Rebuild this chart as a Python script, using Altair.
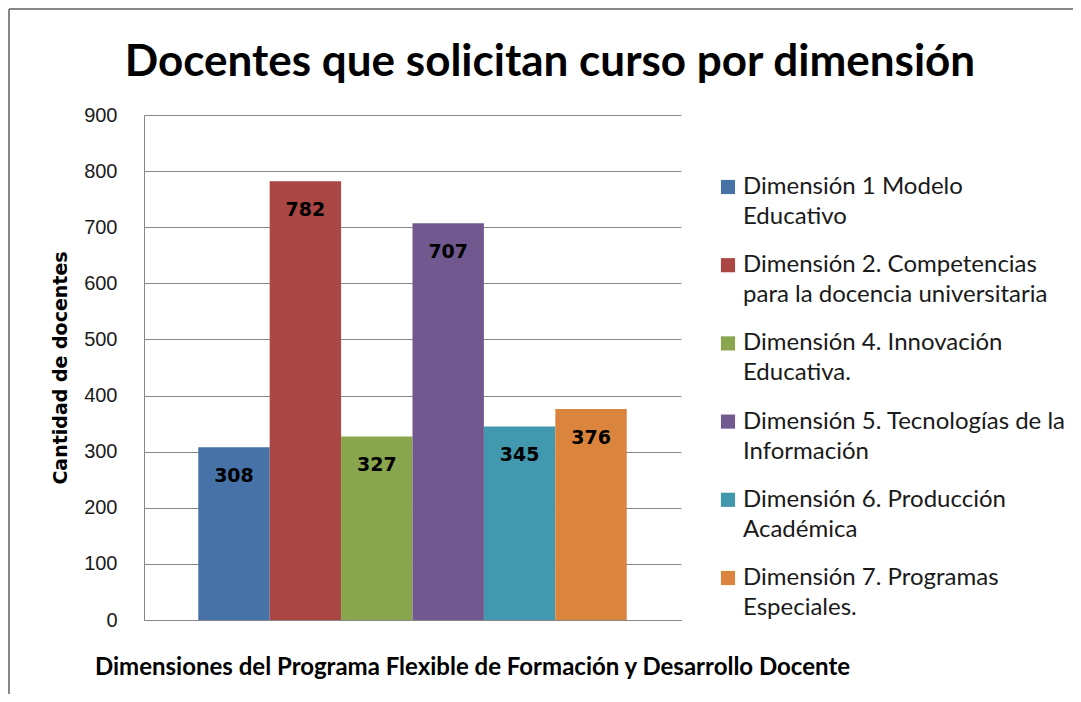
import altair as alt
import pandas as pd

# ---- data ----
title_text = ["Docentes que solicitan curso por dimensión"]
line1 = [
    "Dimensión 1 Modelo",
    "Dimensión 2. Competencias",
    "Dimensión 4. Innovación",
    "Dimensión 5. Tecnologías de la",
    "Dimensión 6. Producción",
    "Dimensión 7. Programas",
]
line2 = [
    "Educativo",
    "para la docencia universitaria",
    "Educativa.",
    "Información",
    "Académica",
    "Especiales.",
]
values = [308, 782, 327, 707, 345, 376]
colors = ["#4672A8", "#AA4643", "#89A54E", "#71588F", "#4198AF", "#DB843D"]
y_ticks = [0, 100, 200, 300, 400, 500, 600, 700, 800, 900]

dims = [a + " " + b for a, b in zip(line1, line2)]
df = pd.DataFrame({
    "dim": dims,
    "label": [a + "\n" + b for a, b in zip(line1, line2)],
    "value": values,
})

GRAY = "#868686"
W, H = 537, 505
PAD_L, PAD_T = 136, 107

color = alt.Color("dim:N", scale=alt.Scale(domain=dims, range=colors), legend=None)

x_enc = alt.X(
    "dim:N", sort=dims,
    scale=alt.Scale(paddingInner=0, paddingOuter=0.76),
    axis=alt.Axis(
        labels=False, ticks=False, domain=True, domainColor=GRAY, domainWidth=1,
        grid=False,
        title="Dimensiones del Programa Flexible de Formación y Desarrollo Docente",
        titleFont="Lato", titleFontSize=24, titleFontWeight="bold", titleColor="#000000",
        titleX=472 - 144, titleY=47, titleAlign="center", titleBaseline="middle",
    ),
)
y_enc = alt.Y(
    "value:Q",
    scale=alt.Scale(domain=[0, 900], nice=False),
    axis=alt.Axis(
        orient="left",
        values=y_ticks, ticks=False, labelPadding=27,
        labelFont="Liberation Sans", labelFontSize=20, labelColor="#1a1a1a",
        grid=True, gridColor=GRAY, gridWidth=1, domain=True, domainColor=GRAY, domainWidth=1,
        title="Cantidad de docentes",
        titleFont="DejaVu Sans", titleFontSize=19, titleFontWeight="bold", titleColor="#000000",
        titleAngle=270, titleX=60 - 144, titleY=H / 2, titleAlign="center", titleBaseline="middle",
    ),
)

bars = alt.Chart(df).mark_bar().encode(x=x_enc, y=y_enc, color=color)

labels = alt.Chart(df).mark_text(
    font="DejaVu Sans", fontSize=19, fontWeight="bold", color="#000000",
    baseline="middle", dy=28.5,
).encode(
    x=alt.X("dim:N", sort=dims),
    y=alt.Y("value:Q"),
    text=alt.Text("value:Q"),
)

main = alt.layer(bars, labels)

leg_y = alt.Y("dim:N", sort=dims, scale=alt.Scale(type="point", range=[72, 463], padding=0), axis=None)

leg_sq = alt.Chart(df).mark_square(size=200, opacity=1).encode(
    x=alt.value(728 - 144), y=leg_y, color=color
)
leg_txt = alt.Chart(df).mark_text(
    font="Lato", fontSize=24, color="#1a1a1a", align="left", baseline="middle",
    lineBreak="\n", lineHeight=30,
).encode(x=alt.value(743 - 144), y=leg_y, text="label:N")

legend = alt.layer(leg_sq, leg_txt)

one = pd.DataFrame({"t": title_text})
title = alt.Chart(one).mark_text(
    font="Lato", fontSize=44, fontWeight="bold", color="#000000",
    align="center", baseline="alphabetic",
).encode(x=alt.value(550 - 144), y=alt.value(76 - 115), text="t:N")

top_line = alt.Chart(one).mark_rule(color=GRAY, strokeWidth=2).encode(
    x=alt.value(-135), x2=alt.value(1081), y=alt.value(-106)
)
left_line = alt.Chart(one).mark_rule(color=GRAY, strokeWidth=2).encode(
    x=alt.value(-135), y=alt.value(-106), y2=alt.value(700)
)

chart = (
    alt.layer(main, legend, title, top_line, left_line)
    .resolve_scale(y="independent")
    .properties(
        width=W, height=H,
        background="#ffffff",
        autosize=alt.AutoSizeParams(type="none"),
        padding={"left": PAD_L, "top": PAD_T, "right": 1065 - PAD_L - W, "bottom": 686 - PAD_T - H},
    )
    .configure_view(strokeWidth=0, strokeOpacity=0)
)

chart.save("out.html", embed_options={"renderer": "svg", "actions": False})
